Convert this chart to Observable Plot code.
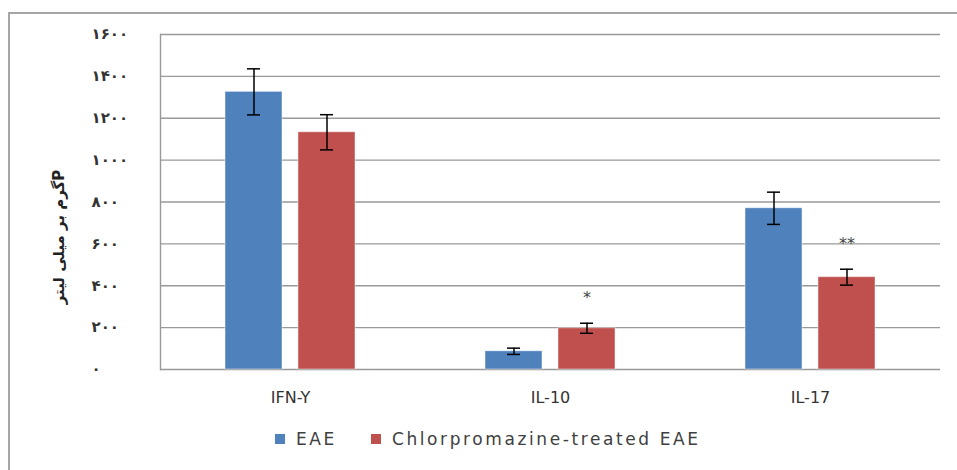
<!DOCTYPE html>
<html>
<head>
<meta charset="utf-8">
<script src="https://cdn.jsdelivr.net/npm/d3@7"></script>
<script src="https://cdn.jsdelivr.net/npm/@observablehq/plot@0.6"></script>
<style>
  html, body { margin: 0; padding: 0; background: #fff; }
  #wrap { position: relative; width: 957px; height: 470px; overflow: hidden; }
  #border { position: absolute; left: 8px; top: 12px; right: -4px; bottom: -4px; border-left: 2px solid #a6a6a6; border-top: 2px solid #a6a6a6; pointer-events: none; }
  #chart { position: absolute; left: 0; top: 0; }
  #legend { position: absolute; left: 275px; top: 429px; display: flex; align-items: center; font-family: "DejaVu Sans", sans-serif; font-size: 17px; letter-spacing: 2.6px; color: #404040; }
  .sw { display: inline-block; width: 10px; height: 10px; margin-right: 11px; }
  .item { display: flex; align-items: center; margin-right: 34px; }
</style>
</head>
<body>
<div id="wrap">
  <div id="chart"></div>
  <div id="border"></div>
  <div id="legend"></div>
</div>
<script>
const categories = ["IFN-Y", "IL-10", "IL-17"];
const series = ["EAE", "Chlorpromazine-treated EAE"];
const eaeMean = [1326, 87, 770];
const eaeErr = [110, 15, 77];
const cpzMean = [1133, 197, 441];
const cpzErr = [84, 24, 38];
const cpzSignificance = ["", "*", "**"];
const yTicks = [0, 200, 400, 600, 800, 1000, 1200, 1400, 1600];
const yTickLabels = ["۰", "۲۰۰", "۴۰۰", "۶۰۰", "۸۰۰", "۱۰۰۰", "۱۲۰۰", "۱۴۰۰", "۱۶۰۰"];
const yTitle = "\u202BPگرم بر میلی لیتر\u202C";
const colors = ["#4f81bd", "#c0504d"];

const rows = [];
categories.forEach((c, i) => {
  rows.push({category: c, series: series[0], mean: eaeMean[i], err: eaeErr[i], sig: ""});
  rows.push({category: c, series: series[1], mean: cpzMean[i], err: cpzErr[i], sig: cpzSignificance[i]});
});
const labelOf = new Map(yTicks.map((t, i) => [t, yTickLabels[i]]));

const chart = Plot.plot({
  width: 957,
  height: 420,
  marginLeft: 159,
  marginRight: 17,
  marginTop: 34,
  marginBottom: 51,
  style: {background: "transparent"},
  fx: {domain: categories, padding: 0, label: null},
  x: {domain: series, paddingInner: 0.216, paddingOuter: 0.878, axis: null, label: null},
  y: {domain: [0, 1600], axis: null, label: null},
  color: {domain: series, range: colors},
  marks: [
    Plot.gridY(yTicks, {stroke: "#999", strokeOpacity: 1, strokeWidth: 1.4}),
    Plot.frame({anchor: "left", facetAnchor: "left", stroke: "#999", strokeWidth: 1.4}),
    Plot.axisY(yTicks, {
      tickSize: 0, textAnchor: "start", dx: -60, fontSize: 15, fontWeight: "bold", fill: "#333", label: null,
      tickFormat: d => labelOf.get(d), fontFamily: "DejaVu Sans, sans-serif", style: {letterSpacing: "1.2px"}
    }),
    Plot.text([yTitle], {
      frameAnchor: "left", facetAnchor: "left", textAnchor: "middle", rotate: -90, dx: -101, dy: 35,
      fontSize: 15, fontWeight: "bold", fill: "#222", fontFamily: "DejaVu Sans, sans-serif"
    }),
    Plot.axisFx({
      anchor: "bottom", tickSize: 0, label: null, fontSize: 16, dy: 13, fill: "#333",
      fontFamily: "DejaVu Sans, sans-serif", style: {letterSpacing: "2.2px"}
    }),
    Plot.barY(rows, {fx: "category", x: "series", y: "mean", fill: "series", stroke: "#fff", strokeOpacity: 0.45, strokeWidth: 1}),
    Plot.ruleX(rows, {fx: "category", x: "series", y1: d => d.mean - d.err, y2: d => d.mean + d.err, stroke: "#000", strokeWidth: 1.5}),
    Plot.tickY(rows, {fx: "category", x: "series", y: d => d.mean + d.err, stroke: "#000", strokeWidth: 1.5, insetLeft: 22, insetRight: 22}),
    Plot.tickY(rows, {fx: "category", x: "series", y: d => d.mean - d.err, stroke: "#000", strokeWidth: 1.5, insetLeft: 22, insetRight: 22}),
    Plot.text(rows.filter(d => d.sig), {fx: "category", x: "series", y: d => d.mean + d.err, text: "sig", dy: -25, fontSize: 16, fill: "#444", fontFamily: "DejaVu Sans, sans-serif"})
  ]
});
document.getElementById("chart").appendChild(chart);

const legend = document.getElementById("legend");
series.forEach((s, i) => {
  const item = document.createElement("div");
  item.className = "item";
  const sw = document.createElement("span");
  sw.className = "sw";
  sw.style.background = colors[i];
  item.appendChild(sw);
  const t = document.createElement("span");
  t.textContent = s;
  item.appendChild(t);
  legend.appendChild(item);
});
</script>
</body>
</html>
